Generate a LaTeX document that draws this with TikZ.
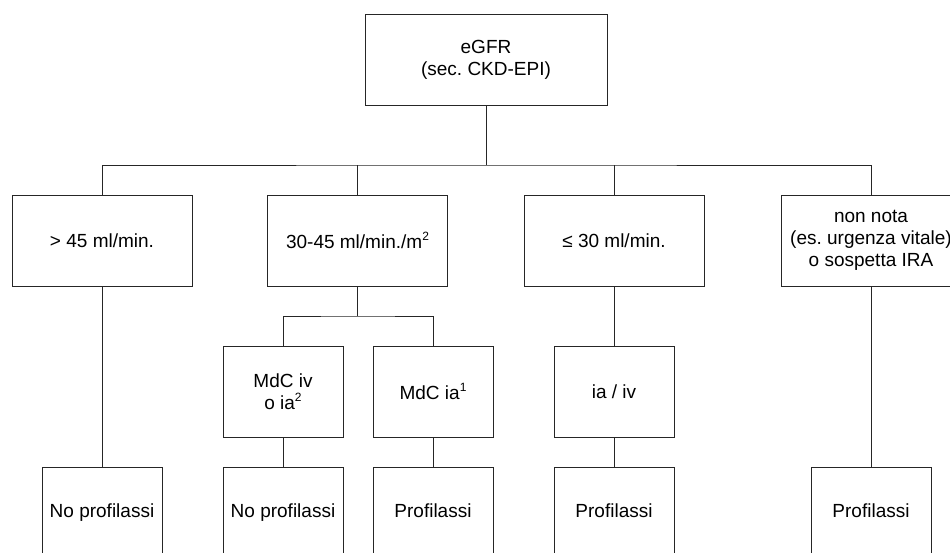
\documentclass[tikz,border=0pt]{standalone}
\usepackage{fontspec}
\setmainfont{Liberation Sans}
\frenchspacing
\newcommand\mysup[1]{\raisebox{0.75ex}{\fontsize{12}{12}\selectfont #1}}
\begin{document}
\begin{tikzpicture}[x=1pt,y=-1pt,
  every node/.style={font=\fontsize{19}{22}\selectfont},
  box/.style={draw=black!85, line width=1pt, align=center, inner sep=0pt},
  wbox/.style={box, minimum width=180pt, minimum height=91pt},
  nbox/.style={box, minimum width=120pt, minimum height=91pt},
  conn/.style={draw=black!85, line width=1pt}]
\clip (0,0) rectangle (950,552);
\fill[white] (0,0) rectangle (950,552);
\node[box, minimum width=242pt, minimum height=91pt] (top) at (486,59.5) {eGFR\\(sec. CKD-EPI)};
\node[wbox] (b1) at (102,240.5) {> 45 ml/min.};
\node[wbox] (b2) at (357.5,240.5) {30-45 ml/min./m\mysup{2}};
\node[wbox] (b3) at (614,240.5) {≤ 30 ml/min.};
\node[wbox] (b4) at (871,240.5) {non nota\\(es. urgenza vitale)\\o sospetta IRA};
\node[nbox] (c1) at (283,391.5) {MdC iv\\o ia\mysup{2}};
\node[nbox] (c2) at (433,391.5) {MdC ia\mysup{1}};
\node[nbox] (c3) at (614,391.5) {ia / iv};
\node[nbox] (d1) at (102,512.5) {No profilassi\vphantom{P}};
\node[nbox] (d2) at (283,512.5) {No profilassi\vphantom{P}};
\node[nbox] (d3) at (433,512.5) {Profilassi\vphantom{p}};
\node[nbox] (d4) at (614,512.5) {Profilassi\vphantom{p}};
\node[nbox] (d5) at (871,512.5) {Profilassi\vphantom{p}};
\coordinate (bus) at (486,165);
\coordinate (sub) at (357.5,316);
\draw[conn] (top.south) -- (bus);
\draw[conn] (b1.north) |- (bus) -| (b4.north);
\draw[conn] (b2.north) -- (b2.north |- bus);
\draw[conn] (b3.north) -- (b3.north |- bus);
\draw[conn] (b2.south) -- (sub);
\draw[conn] (c1.north) |- (sub) -| (c2.north);
\draw[conn] (b1.south) -- (d1.north);
\draw[conn] (c1.south) -- (d2.north);
\draw[conn] (c2.south) -- (d3.north);
\draw[conn] (b3.south) -- (c3.north);
\draw[conn] (c3.south) -- (d4.north);
\draw[conn] (b4.south) -- (d5.north);
\end{tikzpicture}
\end{document}
